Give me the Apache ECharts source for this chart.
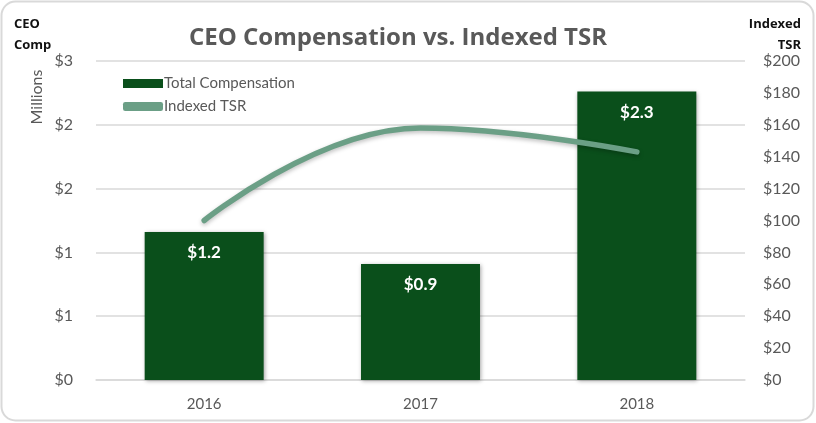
<!DOCTYPE html>
<html>
<head>
<meta charset="utf-8">
<script src="https://cdn.jsdelivr.net/npm/echarts@6/dist/echarts.min.js"></script>
<style>
html,body{margin:0;padding:0;background:#fff;}
#chart{width:816px;height:423px;}
</style>
</head>
<body>
<div id="chart"></div>
<script>
var categories = ['2016', '2017', '2018'];
var compensation = [1.16, 0.91, 2.26];
var compLabels = ['$1.2', '$0.9', '$2.3'];
var indexedTSR = [100, 158, 143];
var leftTickLabels = ['$0', '$1', '$1', '$2', '$2', '$3'];
var rightTickLabels = ['$0', '$20', '$40', '$60', '$80', '$100', '$120', '$140', '$160', '$180', '$200'];

var FONT = 'Lato, "Open Sans", sans-serif';
var TFONT = '"Open Sans", Lato, sans-serif';
var GRAY = '#595959';

var chart = echarts.init(document.getElementById('chart'), null, {renderer: 'canvas'});
chart.setOption({
  backgroundColor: '#fff',
  animation: false,
  textStyle: {fontFamily: FONT},
  graphic: [
    {type: 'rect', shape: {x: 1.5, y: 1.5, width: 812, height: 419, r: 14},
     style: {fill: 'none', stroke: '#d9d9d9', lineWidth: 2}, z: 100},
    {type: 'text', x: 398, y: 38, style: {text: 'CEO Compensation vs. Indexed TSR', fill: GRAY,
      font: 'bold 24px ' + TFONT, textAlign: 'center', textVerticalAlign: 'middle'}},
    {type: 'text', x: 14, y: 24, style: {text: 'CEO', fill: '#111', font: 'bold 13px ' + TFONT, textVerticalAlign: 'middle'}},
    {type: 'text', x: 14, y: 45, style: {text: 'Comp', fill: '#111', font: 'bold 13px ' + TFONT, textVerticalAlign: 'middle'}},
    {type: 'text', x: 801, y: 24, style: {text: 'Indexed', fill: '#111', font: 'bold 13px ' + TFONT, textAlign: 'right', textVerticalAlign: 'middle'}},
    {type: 'text', x: 801, y: 45, style: {text: 'TSR', fill: '#111', font: 'bold 13px ' + TFONT, textAlign: 'right', textVerticalAlign: 'middle'}},
    {type: 'text', x: 37, y: 97, rotation: Math.PI / 2, style: {text: 'Millions', fill: GRAY, font: '16px ' + FONT, textAlign: 'center', textVerticalAlign: 'middle'}}
  ],
  legend: {
    orient: 'vertical',
    left: 118,
    top: 71,
    itemGap: 8,
    itemWidth: 40,
    itemHeight: 9,
    textStyle: {color: GRAY, fontSize: 15, fontFamily: FONT, padding: [0, 0, 0, -4]},
    data: [
      {name: 'Total Compensation', icon: 'rect'},
      {name: 'Indexed TSR', icon: 'roundRect'}
    ]
  },
  grid: {left: 96, right: 71, top: 61, bottom: 43},
  xAxis: {
    type: 'category',
    data: categories,
    axisLine: {lineStyle: {color: '#d9d9d9', width: 1.5}},
    axisTick: {show: false},
    axisLabel: {color: GRAY, fontSize: 15, margin: 17, fontFamily: FONT}
  },
  yAxis: [
    {
      type: 'value', min: 0, max: 2.5, interval: 0.5,
      axisLine: {show: false}, axisTick: {show: false},
      splitLine: {lineStyle: {color: '#d9d9d9', width: 1.5}},
      axisLabel: {color: GRAY, fontSize: 16, margin: 23, fontFamily: FONT,
        formatter: function (v, i) { return leftTickLabels[Math.round(v / 0.5)]; }}
    },
    {
      type: 'value', min: 0, max: 200, interval: 20,
      axisLine: {show: false}, axisTick: {show: false}, splitLine: {show: false},
      axisLabel: {color: GRAY, fontSize: 16, margin: 18, fontFamily: FONT,
        formatter: function (v) { return rightTickLabels[Math.round(v / 20)]; }}
    }
  ],
  series: [
    {
      name: 'Total Compensation',
      type: 'bar',
      data: compensation,
      yAxisIndex: 0,
      barCategoryGap: '45%',
      itemStyle: {color: '#0a4f1b', shadowColor: 'rgba(0,0,0,0.35)', shadowBlur: 4, shadowOffsetX: 1, shadowOffsetY: 1},
      label: {show: true, position: 'insideTop', distance: 12, color: '#fff', fontWeight: 'bold', fontSize: 17, fontFamily: FONT,
        formatter: function (p) { return compLabels[p.dataIndex]; }},
      z: 2
    },
    {
      name: 'Indexed TSR',
      type: 'line',
      data: indexedTSR,
      yAxisIndex: 1,
      smooth: 0.45,
      showSymbol: false,
      symbol: 'none',
      lineStyle: {color: '#6b9f86', width: 5.5, cap: 'round', shadowColor: 'rgba(0,0,0,0.25)', shadowBlur: 4, shadowOffsetY: 2},
      itemStyle: {color: '#6b9f86'},
      z: 3
    }
  ]
});
</script>
</body>
</html>
